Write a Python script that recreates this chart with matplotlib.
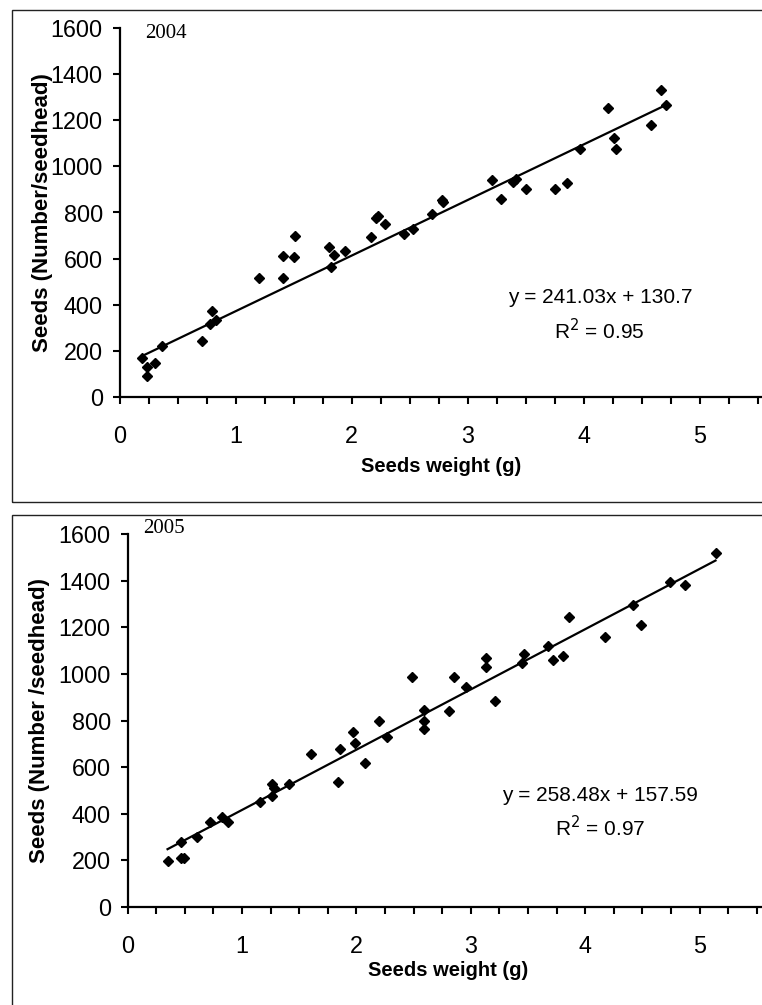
import matplotlib
matplotlib.use("Agg")
import matplotlib.pyplot as plt
from matplotlib.patches import Rectangle
from matplotlib.ticker import MultipleLocator
import numpy as np

plt.rcParams["font.family"] = ["Liberation Sans", "DejaVu Sans"]

# 2004 data (seeds weight g, seeds number per seedhead)
w_2004 = [0.19, 0.24, 0.24, 0.31, 0.37, 0.71, 0.78, 0.80, 0.83, 1.20,
          1.41, 1.41, 1.50, 1.51, 1.81, 1.82, 1.85, 1.94, 2.17, 2.21,
          2.23, 2.29, 2.45, 2.53, 2.69, 2.78, 2.79, 3.21, 3.29, 3.39,
          3.42, 3.50, 3.75, 3.86, 3.97, 4.21, 4.26, 4.28, 4.58, 4.67, 4.71]
n_2004 = [170, 131, 92, 146, 223, 244, 317, 374, 334, 515,
          515, 612, 606, 700, 652, 563, 616, 635, 695, 775,
          785, 749, 706, 727, 793, 855, 847, 941, 859, 934,
          944, 902, 902, 927, 1075, 1255, 1125, 1076, 1180, 1329, 1265]
fit_2004 = (241.03, 130.7)
r2_2004 = "0.95"

# 2005 data
w_2005 = [0.35, 0.47, 0.49, 0.47, 0.61, 0.72, 0.83, 0.88, 1.16, 1.26,
          1.26, 1.28, 1.41, 1.60, 1.84, 1.86, 1.97, 1.99, 2.08, 2.20,
          2.27, 2.49, 2.59, 2.59, 2.59, 2.81, 2.85, 2.96, 3.13, 3.13,
          3.21, 3.45, 3.47, 3.68, 3.72, 3.81, 3.86, 4.17, 4.42, 4.49,
          4.74, 4.87, 5.14]
n_2005 = [198, 209, 209, 280, 299, 364, 388, 366, 452, 474,
          527, 510, 527, 656, 538, 679, 749, 703, 617, 800,
          729, 985, 846, 800, 763, 839, 985, 942, 1068, 1029,
          882, 1047, 1085, 1118, 1058, 1078, 1242, 1157, 1297, 1211,
          1393, 1380, 1519]
fit_2005 = (258.48, 157.59)
r2_2005 = "0.97"

W, H = 762, 1005
fig = plt.figure(figsize=(W / 100, H / 100), dpi=100)

# panel frames
fig.patches.append(Rectangle((12 / W, 1 - 502 / H), 1.0, (502 - 10) / H,
                             transform=fig.transFigure, fill=False,
                             edgecolor="#222222", linewidth=1.0))
fig.patches.append(Rectangle((12 / W, -0.01), 1.0, 0.01 + (1005 - 515.5) / H,
                             transform=fig.transFigure, fill=False,
                             edgecolor="#222222", linewidth=1.0))

# year, x, y, fit, r2, y label, axes rect, xmax, label/text positions
panels = [
    ("2004", w_2004, n_2004, fit_2004, r2_2004, "Seeds (Number/seedhead)",
     [119.5 / W, 1 - 397 / H, 5.55 * 116 / W, 369 / H], 5.55,
     (0.04, 0.986), (0.746, 0.271, 0.18), -0.187, -0.120),
    ("2005", w_2005, n_2005, fit_2005, r2_2005, "Seeds (Number /seedhead)",
     [127.5 / W, 1 - 907 / H, 5.6 * 114.4 / W, 373 / H], 5.6,
     (0.025, 1.016), (0.738, 0.30, 0.212), -0.169, -0.137),
]

for year, x, y, fit, r2, ylab, rect, xmax, ypos, eqpos, xlab_y, ylab_x in panels:
    ax = fig.add_axes(rect)
    ax.plot(x, y, "D", color="black", markersize=5.5, clip_on=False)
    slope, icpt = fit
    xl = np.array([min(x), max(x)])
    ax.plot(xl, slope * xl + icpt, color="black", linewidth=1.6)

    ax.set_xlim(0, xmax)
    ax.set_ylim(0, 1600)
    ax.xaxis.set_major_locator(MultipleLocator(1))
    ax.xaxis.set_minor_locator(MultipleLocator(0.25))
    ax.yaxis.set_major_locator(MultipleLocator(200))
    ax.spines["top"].set_visible(False)
    ax.spines["right"].set_visible(False)
    for s in ["left", "bottom"]:
        ax.spines[s].set_linewidth(1.6)
    ax.tick_params(which="both", direction="out", length=5, width=1.5,
                   labelsize=16.8)
    ax.tick_params(axis="y", pad=7)
    ax.tick_params(axis="x", pad=15)

    ax.set_xlabel("Seeds weight (g)", fontsize=14.5, fontweight="bold",
                  va="center")
    ax.set_ylabel(ylab, fontsize=16, fontweight="bold", va="center")
    ax.xaxis.set_label_coords(0.5, xlab_y)
    ax.yaxis.set_label_coords(ylab_x, 0.5)

    ax.text(ypos[0], ypos[1], year, transform=ax.transAxes, fontsize=15,
            family="Liberation Serif", va="center", ha="left")
    ax.text(eqpos[0], eqpos[1], "y = %.2fx + %g" % (slope, icpt),
            transform=ax.transAxes, fontsize=15, ha="center", va="center")
    ax.text(eqpos[0], eqpos[2], "R$^2$ = " + r2, transform=ax.transAxes,
            fontsize=15, ha="center", va="center")

fig.savefig("out.png", dpi=100)
